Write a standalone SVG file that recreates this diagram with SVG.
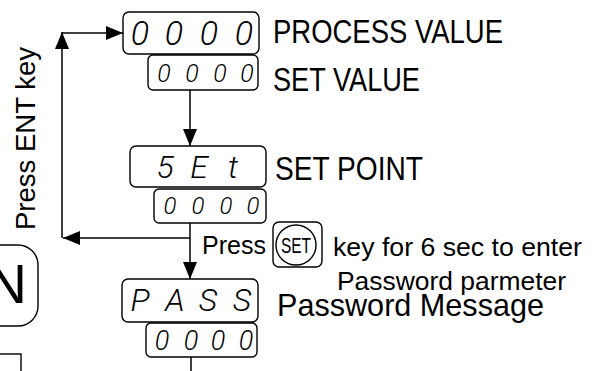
<svg xmlns="http://www.w3.org/2000/svg" width="596" height="371" viewBox="0 0 596 371">
<defs>
<style>
.box{fill:#fff;stroke:#000;stroke-width:1.4}
.seg{font-family:Roboto,"Liberation Sans",Arial,sans-serif;font-weight:300;font-style:italic;fill:#000;text-anchor:middle}
.lbl{font-family:"Liberation Sans",Arial,sans-serif;fill:#000}
.con{fill:none;stroke:#000;stroke-width:1.5}
</style>
<marker id="ah" markerUnits="userSpaceOnUse" markerWidth="17" markerHeight="14" refX="17" refY="7" orient="auto">
<path d="M0,0 L17,7 L0,14 z" fill="#000"/>
</marker>
</defs>
<rect width="596" height="371" fill="#fff"/>

<g id="connectors">
<line class="con" x1="190" y1="238" x2="63" y2="238" marker-end="url(#ah)"/>
<line class="con" x1="62" y1="238" x2="62" y2="32" marker-end="url(#ah)"/>
<line class="con" x1="62" y1="33" x2="123" y2="33" marker-end="url(#ah)"/>
<line class="con" x1="190" y1="90" x2="190" y2="146" marker-end="url(#ah)"/>
<line class="con" x1="190" y1="223" x2="190" y2="279" marker-end="url(#ah)"/>
<line class="con" x1="191" y1="357" x2="191" y2="371"/>
</g>

<g id="pv-display">
<rect class="box" x="123" y="12" width="136" height="42" rx="6"/>
<text class="seg" x="140 174 209 244" y="45" font-size="34">0000</text>
</g>
<g id="pv-label"><text class="lbl" x="273" y="43" font-size="34" textLength="230" lengthAdjust="spacingAndGlyphs">PROCESS VALUE</text></g>

<g id="sv-display">
<rect class="box" x="148" y="55" width="110" height="35" rx="5"/>
<text class="seg" x="164 192 220 247" y="82" font-size="25">0000</text>
</g>
<g id="sv-label"><text class="lbl" x="273" y="91" font-size="34" textLength="147" lengthAdjust="spacingAndGlyphs">SET VALUE</text></g>

<g id="setpoint-display">
<rect class="box" x="130" y="146" width="136" height="41" rx="6"/>
<text class="seg" x="165 199 233" y="178" font-size="32">5Et</text>
</g>
<g id="setpoint-label"><text class="lbl" x="275" y="180" font-size="34" textLength="148" lengthAdjust="spacingAndGlyphs">SET POINT</text></g>

<g id="setpoint-value">
<rect class="box" x="154" y="189" width="112" height="34" rx="5"/>
<text class="seg" x="170 198 226 253" y="214" font-size="24">0000</text>
</g>

<g id="press-set-key">
<text class="lbl" x="202" y="254" font-size="26" textLength="64" lengthAdjust="spacingAndGlyphs">Press</text>
<rect class="box" x="273" y="222" width="49" height="45" rx="6"/>
<circle cx="296" cy="245" r="20" fill="none" stroke="#000" stroke-width="1.4"/>
<text class="lbl" x="296" y="253" font-size="22" text-anchor="middle" textLength="30" lengthAdjust="spacingAndGlyphs">SET</text>
<text class="lbl" x="333" y="256" font-size="26" textLength="249" lengthAdjust="spacingAndGlyphs">key for 6 sec to enter</text>
<text class="lbl" x="337" y="290" font-size="26" textLength="229" lengthAdjust="spacingAndGlyphs">Password parmeter</text>
</g>

<g id="pass-display">
<rect class="box" x="122" y="279" width="136" height="43" rx="6"/>
<text class="seg" x="140 175 208 242" y="311" font-size="32">PASS</text>
</g>
<g id="pass-label"><text class="lbl" x="277" y="316" font-size="32" textLength="267" lengthAdjust="spacingAndGlyphs">Password Message</text></g>

<g id="pass-value">
<rect class="box" x="146" y="323" width="111" height="34" rx="5"/>
<text class="seg" x="162 191 218 246" y="350" font-size="27">0000</text>
</g>

<g id="press-ent-label">
<text class="lbl" transform="translate(35,230) rotate(-90)" x="0" y="0" font-size="27.5" textLength="183" lengthAdjust="spacingAndGlyphs">Press ENT key</text>
</g>

<g id="ent-key">
<rect class="box" x="-50" y="245" width="88" height="81" rx="20"/>
<text class="lbl" x="27" y="303" font-size="56" text-anchor="end">N</text>
</g>

<g id="bottom-box">
<rect class="box" x="-20" y="354" width="41" height="40"/>
</g>
</svg>
